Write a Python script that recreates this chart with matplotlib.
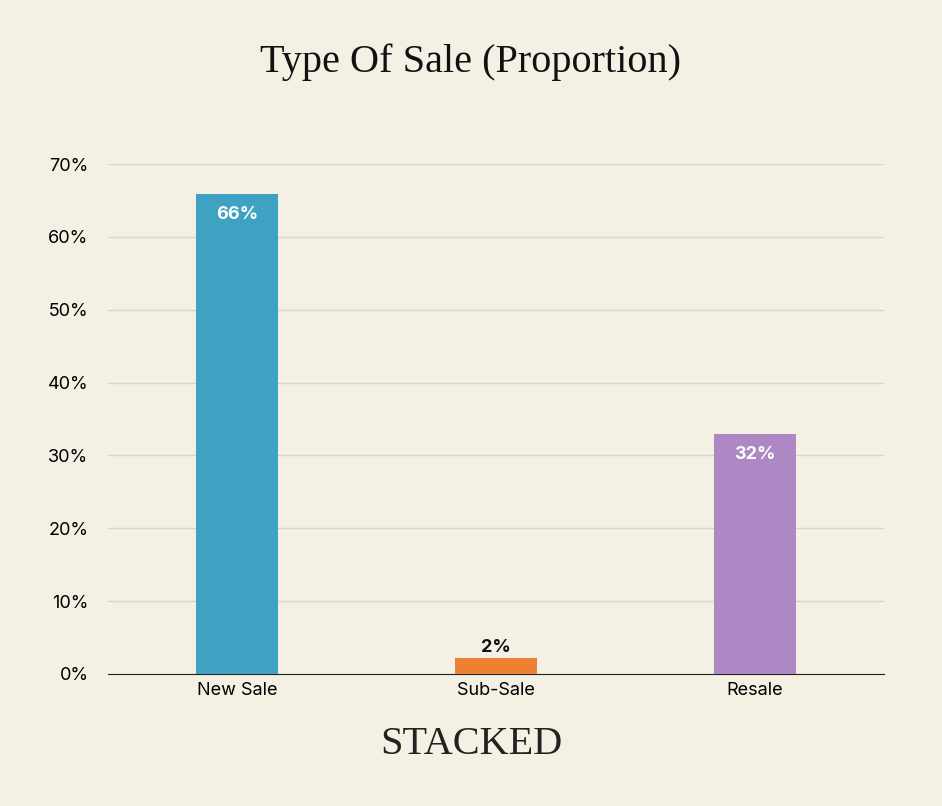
import matplotlib
matplotlib.use("Agg")
import matplotlib.pyplot as plt

categories = ["New Sale", "Sub-Sale", "Resale"]
values = [65.9, 2.2, 32.9]
labels = ["66%", "2%", "32%"]
yticks = [0, 10, 20, 30, 40, 50, 60, 70]
colors = ["#3fa2c2", "#ef7f31", "#ad88c4"]
bg = "#f4f0e4"

fig = plt.figure(figsize=(9.42, 8.06), dpi=100, facecolor=bg)
ax = fig.add_axes([0.1146, 0.1638, 0.8238, 0.6327], facecolor=bg)
x = list(range(len(categories)))
ax.bar(x, values, width=0.317, color=colors, zorder=3)
ax.set_xlim(-0.5, 2.5)
ax.set_ylim(0, 70)
ax.set_yticks(yticks)
ax.set_yticklabels([f"{t}%" for t in yticks], fontsize=13, fontfamily="Inter")
ax.set_xticks(x)
ax.set_xticklabels(categories, fontsize=13, fontfamily="Inter")
ax.grid(axis="y", color="#d8d5cb", linewidth=1, zorder=0)
for s in ["top", "right", "left"]:
    ax.spines[s].set_visible(False)
ax.spines["bottom"].set_color("#222222")
ax.tick_params(axis="y", length=0, pad=14)
ax.tick_params(axis="x", length=0, pad=6)
for i, (v, l) in enumerate(zip(values, labels)):
    if v > 10:
        ax.text(i, v - 1.6, l, ha="center", va="top", color="white", fontsize=13,
                fontweight="bold", fontfamily="Inter", zorder=4)
    else:
        ax.text(i, v + 0.3, l, ha="center", va="bottom", color="#111111", fontsize=13,
                fontweight="bold", fontfamily="Inter", zorder=4)

fig.text(0.5, 1 - 62 / 806, "Type Of Sale (Proportion)", ha="center", va="center",
         fontsize=29, fontfamily="Liberation Serif", color="#111111")
t = fig.text(0.5, 1 - 745 / 806, "STACKED", ha="center", va="center",
             fontsize=29, fontfamily="Liberation Serif", color="#222222")
t.set_fontstretch("expanded")
fig.savefig("out.png", dpi=100, facecolor=bg)
